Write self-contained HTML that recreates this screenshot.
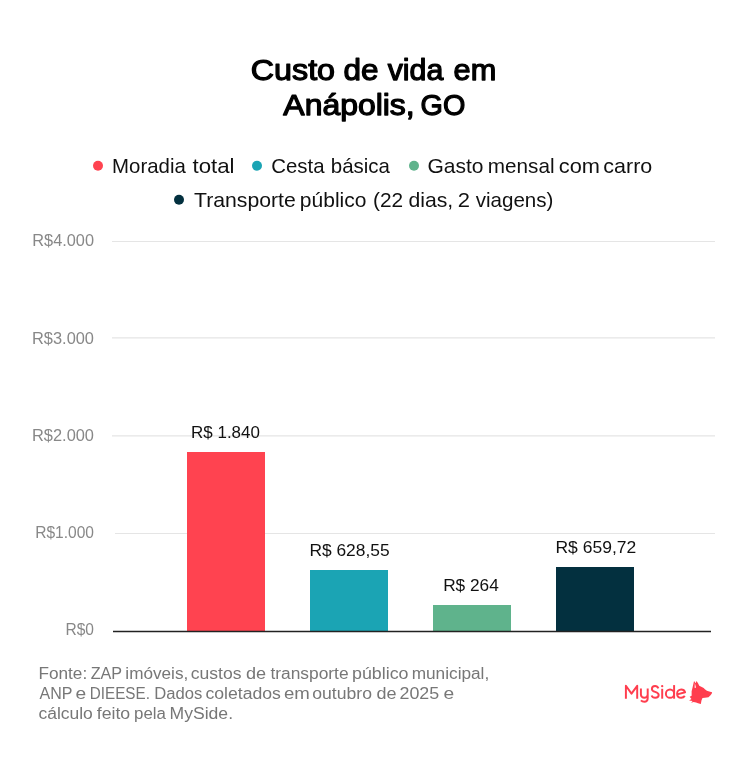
<!DOCTYPE html>
<html><head><meta charset="utf-8">
<style>
html,body{margin:0;padding:0;background:#fff;}
body{width:747px;height:779px;overflow:hidden;position:relative;}
svg{position:absolute;left:0;top:0;will-change:transform;}
text{font-family:"Liberation Sans",sans-serif;}
</style></head>
<body>
<svg width="747" height="779" viewBox="0 0 747 779">
  <rect x="0" y="0" width="747" height="779" fill="#fff"/>
  <!-- title -->
  <g font-size="30" fill="#000" stroke="#000" stroke-width="1.25" stroke-linejoin="round">
    <text x="250.79" y="79.8" textLength="84.25" lengthAdjust="spacingAndGlyphs">Custo</text>
    <text x="343.48" y="79.8" textLength="35.04" lengthAdjust="spacingAndGlyphs">de</text>
    <text x="387.71" y="79.8" textLength="55.64" lengthAdjust="spacingAndGlyphs">vida</text>
    <text x="453.57" y="79.8" textLength="42.65" lengthAdjust="spacingAndGlyphs">em</text>
    <text x="283.33" y="114.5" textLength="131.38" lengthAdjust="spacingAndGlyphs">Anápolis,</text>
    <text x="420.56" y="114.5" textLength="44.76" lengthAdjust="spacingAndGlyphs">GO</text>
  </g>
  <!-- legend -->
  <circle cx="98" cy="165.7" r="5" fill="#FF4350"/>
  <circle cx="257" cy="165.7" r="5" fill="#1BA4B4"/>
  <circle cx="414" cy="165.7" r="5" fill="#5FB38C"/>
  <circle cx="179" cy="199.7" r="5" fill="#03303F"/>
  <g font-size="20.6" fill="#111">
    <text x="112.11" y="173" textLength="73.69" lengthAdjust="spacingAndGlyphs">Moradia</text>
    <text x="192.46" y="173" textLength="42.09" lengthAdjust="spacingAndGlyphs">total</text>
    <text x="271.21" y="173" textLength="53.30" lengthAdjust="spacingAndGlyphs">Cesta</text>
    <text x="330.81" y="173" textLength="59.12" lengthAdjust="spacingAndGlyphs">básica</text>
    <text x="427.47" y="173" textLength="56.01" lengthAdjust="spacingAndGlyphs">Gasto</text>
    <text x="487.79" y="173" textLength="66.71" lengthAdjust="spacingAndGlyphs">mensal</text>
    <text x="558.81" y="173" textLength="41.18" lengthAdjust="spacingAndGlyphs">com</text>
    <text x="603.34" y="173" textLength="48.95" lengthAdjust="spacingAndGlyphs">carro</text>
    <text x="193.99" y="207" textLength="101.78" lengthAdjust="spacingAndGlyphs">Transporte</text>
    <text x="299.87" y="207" textLength="66.61" lengthAdjust="spacingAndGlyphs">público</text>
    <text x="372.98" y="207" textLength="30.10" lengthAdjust="spacingAndGlyphs">(22</text>
    <text x="408.45" y="207" textLength="44.82" lengthAdjust="spacingAndGlyphs">dias,</text>
    <text x="457.70" y="207" textLength="12.23" lengthAdjust="spacingAndGlyphs">2</text>
    <text x="475.70" y="207" textLength="77.74" lengthAdjust="spacingAndGlyphs">viagens)</text>
  </g>
  <!-- grid -->
  <g stroke="#e5e5e5" stroke-width="1">
    <line x1="112" y1="241.5" x2="715" y2="241.5"/>
    <line x1="112" y1="337.9" x2="715" y2="337.9" stroke-width="1.2"/>
    <line x1="112" y1="435.8" x2="715" y2="435.8" stroke-width="1.2"/>
    <line x1="115" y1="533.5" x2="715" y2="533.5"/>
  </g>
  <g font-size="16" fill="#888" text-anchor="end">
    <text x="94" y="246" textLength="61.7" lengthAdjust="spacingAndGlyphs">R$4.000</text>
    <text x="94" y="343.5" textLength="62" lengthAdjust="spacingAndGlyphs">R$3.000</text>
    <text x="94" y="441.3" textLength="62" lengthAdjust="spacingAndGlyphs">R$2.000</text>
    <text x="94" y="538.1" textLength="58.8" lengthAdjust="spacingAndGlyphs">R$1.000</text>
    <text x="94" y="635" textLength="28.5" lengthAdjust="spacingAndGlyphs">R$0</text>
  </g>
  <!-- bars -->
  <rect x="187" y="452" width="78" height="179.4" fill="#FF4350"/>
  <rect x="310" y="570" width="78" height="61.4" fill="#1BA4B4"/>
  <rect x="433" y="605" width="78" height="26.4" fill="#5FB38C"/>
  <rect x="556" y="567" width="78" height="64.4" fill="#03303F"/>
  <line x1="113" y1="631.4" x2="711" y2="631.4" stroke="#222" stroke-width="1.5"/>
  <!-- value labels -->
  <g font-size="17" fill="#111" text-anchor="middle">
    <text x="225.5" y="437.8" textLength="68.8" lengthAdjust="spacingAndGlyphs">R$ 1.840</text>
    <text x="349.5" y="556" textLength="80.25" lengthAdjust="spacingAndGlyphs">R$ 628,55</text>
    <text x="471" y="590.9" textLength="55.7" lengthAdjust="spacingAndGlyphs">R$ 264</text>
    <text x="595.85" y="552.5" textLength="80.75" lengthAdjust="spacingAndGlyphs">R$ 659,72</text>
  </g>
  <!-- footer -->
  <g font-size="16" fill="#777">
    <text x="38.49" y="678.7" textLength="48.71" lengthAdjust="spacingAndGlyphs">Fonte:</text>
    <text x="90.69" y="678.7" textLength="31.45" lengthAdjust="spacingAndGlyphs">ZAP</text>
    <text x="125.39" y="678.7" textLength="62.85" lengthAdjust="spacingAndGlyphs">imóveis,</text>
    <text x="190.76" y="678.7" textLength="50.66" lengthAdjust="spacingAndGlyphs">custos</text>
    <text x="246.03" y="678.7" textLength="20.13" lengthAdjust="spacingAndGlyphs">de</text>
    <text x="270.46" y="678.7" textLength="78.14" lengthAdjust="spacingAndGlyphs">transporte</text>
    <text x="352.03" y="678.7" textLength="56.51" lengthAdjust="spacingAndGlyphs">público</text>
    <text x="411.68" y="678.7" textLength="77.56" lengthAdjust="spacingAndGlyphs">municipal,</text>
    <text x="39.60" y="698.8" textLength="32.91" lengthAdjust="spacingAndGlyphs">ANP</text>
    <text x="75.60" y="698.8" textLength="10.69" lengthAdjust="spacingAndGlyphs">e</text>
    <text x="89.77" y="698.8" textLength="60.19" lengthAdjust="spacingAndGlyphs">DIEESE.</text>
    <text x="154.24" y="698.8" textLength="48.04" lengthAdjust="spacingAndGlyphs">Dados</text>
    <text x="205.45" y="698.8" textLength="75.45" lengthAdjust="spacingAndGlyphs">coletados</text>
    <text x="283.96" y="698.8" textLength="25.86" lengthAdjust="spacingAndGlyphs">em</text>
    <text x="312.25" y="698.8" textLength="59.69" lengthAdjust="spacingAndGlyphs">outubro</text>
    <text x="376.54" y="698.8" textLength="20.02" lengthAdjust="spacingAndGlyphs">de</text>
    <text x="399.53" y="698.8" textLength="39.69" lengthAdjust="spacingAndGlyphs">2025</text>
    <text x="443.50" y="698.8" textLength="10.69" lengthAdjust="spacingAndGlyphs">e</text>
    <text x="38.46" y="718.7" textLength="54.37" lengthAdjust="spacingAndGlyphs">cálculo</text>
    <text x="96.75" y="718.7" textLength="33.48" lengthAdjust="spacingAndGlyphs">feito</text>
    <text x="134.12" y="718.7" textLength="31.87" lengthAdjust="spacingAndGlyphs">pela</text>
    <text x="169.55" y="718.7" textLength="63.47" lengthAdjust="spacingAndGlyphs">MySide.</text>
  </g>
  <!-- logo -->
  <g fill="none" stroke="#FF3D4E" stroke-width="1.95" stroke-linejoin="round">
    <path d="M625.9,698.7 V685.8 L631.5,693.6 L637.2,685.8 V698.7"/>
    <path d="M640.9,688.6 V694.4 A3.4,3.4 0 0 0 647.7,694.4 M647.7,688.6 V698.2 Q647.7,701.7 644.3,701.7 Q642.2,701.7 640.9,700.3"/>
    <path d="M658.4,688.3 C657.8,686.8 656.6,686 655.1,686 C653.2,686 651.9,687.3 651.9,688.9 C651.9,690.7 653.5,691.4 655.2,691.9 C657.3,692.5 658.7,693.3 658.7,695.1 C658.7,696.8 657.2,697.8 655.2,697.8 C653.4,697.8 652.1,696.9 651.6,695.5"/>
    <path d="M662.2,688.8 V698.7"/>
    <ellipse cx="670" cy="693.65" rx="4.1" ry="4.15"/>
    <path d="M674.1,685.1 V698.7"/>
    <path d="M677.3,694.4 L685.1,692.3 C684.5,690.3 683,689.5 681.2,689.5 C678.8,689.5 677.1,691.4 677.1,693.7 C677.1,696.1 678.8,697.8 681.2,697.8 C682.8,697.8 684,697.1 684.8,695.9"/>
  </g>
  <circle cx="662.2" cy="686.2" r="1.15" fill="#FF3D4E"/>
  <path fill="#FF3D4E" fill-rule="evenodd" d="M694.03,681.01 L695.64,683.22 L696.52,681.01 L698.05,683.22 L699.25,685.63 L701.26,686.63 L703.67,688.04 L704.88,689.24 L706.88,690.85 L710.10,691.65 L712.10,692.26 L711.70,693.66 L710.50,695.27 L708.49,697.28 L704.88,697.68 L702.47,698.08 L701.46,700.49 L700.86,704.10 L698.05,703.30 L696.04,702.50 L693.63,702.10 L691.1,702.8 L692.63,700.89 L689.1,700.5 L691.42,698.88 L689.7,696.8 L691.62,695.67 L691.62,691.25 L692.43,688.04 L693.23,684.43 Z M694.84,683.1 L696.04,687.84 L694.63,687.7 Z"/>
</svg>
</body></html>
